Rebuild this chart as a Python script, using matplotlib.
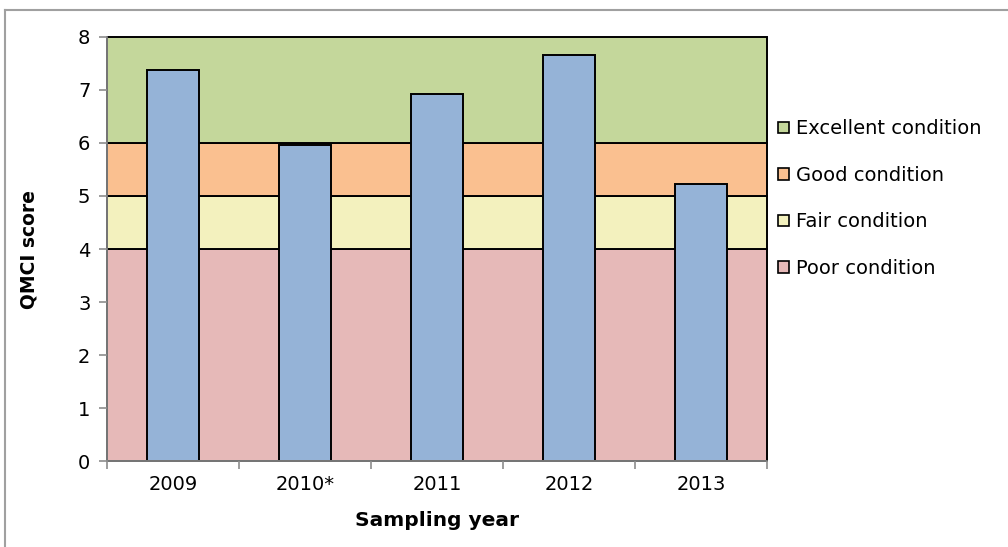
import matplotlib
matplotlib.use("Agg")
import matplotlib.pyplot as plt
from matplotlib.patches import Patch
from matplotlib.lines import Line2D

# QMCI scores by sampling year
years = ["2009", "2010*", "2011", "2012", "2013"]
qmci = [7.38, 5.95, 6.92, 7.65, 5.23]

# Condition bands (lower bound, upper bound)
band_names = ["Poor condition", "Fair condition", "Good condition", "Excellent condition"]
band_lower = [0, 4, 5, 6]
band_upper = [4, 5, 6, 8]
band_colors = ["#E6B9B8", "#F3F1BE", "#FAC090", "#C4D79B"]
bar_color = "#95B3D7"

y_ticks = [0, 1, 2, 3, 4, 5, 6, 7, 8]

plt.rcParams["font.family"] = ["DejaVu Sans"]

fig = plt.figure(figsize=(10.08, 5.47), dpi=100)
ax = fig.add_axes([0.1062, 0.1565, 0.6548, 0.7765])

x = list(range(len(years)))
x_lo, x_hi = -0.5, len(years) - 0.5

# Background bands spanning the full category range
for lo, hi, c in zip(band_lower, band_upper, band_colors):
    ax.bar((x_lo + x_hi) / 2, hi - lo, bottom=lo, width=x_hi - x_lo,
           color=c, edgecolor="black", linewidth=1.4, zorder=1, clip_on=False)

# Score bars
ax.bar(x, qmci, width=0.4, color=bar_color, edgecolor="black",
       linewidth=1.4, zorder=3)

ax.set_xlim(x_lo, x_hi)
ax.set_ylim(0, 8)
ax.set_yticks(y_ticks)
ax.set_yticklabels([str(t) for t in y_ticks])
ax.set_xticks(x)
ax.set_xticklabels(years)
ax.set_xticks([i + 0.5 for i in range(-1, len(years))], minor=True)

ax.tick_params(axis="y", which="major", length=6, width=1.2, color="#8C8C8C",
               labelsize=14, pad=6)
ax.tick_params(axis="x", which="major", length=0, labelsize=14, pad=10)
ax.tick_params(axis="x", which="minor", length=6, width=1.2, color="#8C8C8C")

for side in ["top", "right"]:
    ax.spines[side].set_visible(False)
for side in ["left", "bottom"]:
    ax.spines[side].set_color("#8C8C8C")
    ax.spines[side].set_linewidth(1.2)
    ax.spines[side].set_zorder(5)

ax.set_ylabel("QMCI score", fontsize=13.5, fontweight="bold", labelpad=28)
ax.set_xlabel("Sampling year", fontsize=14.5, fontweight="bold", labelpad=12)

handles = [Patch(facecolor=c, edgecolor="black", linewidth=1.2)
           for c in band_colors[::-1]]
leg = fig.legend(handles, band_names[::-1], loc="upper left",
                 bbox_to_anchor=(0.772, 0.782), frameon=False, fontsize=14,
                 handlelength=0.55, handleheight=0.55, handletextpad=0.35,
                 labelspacing=1.42, borderaxespad=0, borderpad=0)

# Chart-area outline
fig.add_artist(Line2D([0.005, 0.005], [0.0, 1 - 10 / 547], transform=fig.transFigure,
                      color="#A0A0A0", linewidth=1.5))
fig.add_artist(Line2D([0.005, 1.0], [1 - 10 / 547, 1 - 10 / 547], transform=fig.transFigure,
                      color="#A0A0A0", linewidth=1.5))

fig.savefig("out.png", dpi=100)
